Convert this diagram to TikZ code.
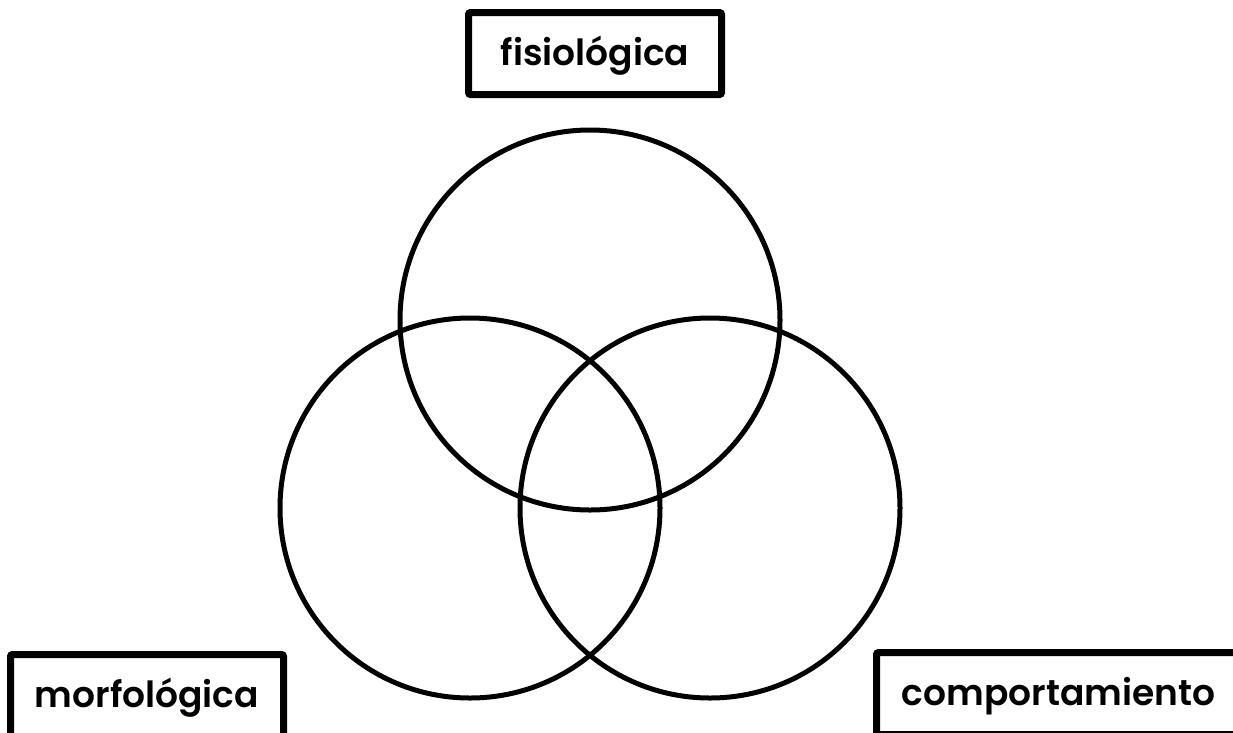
\documentclass[tikz,border=0pt]{standalone}
\usepackage{fontspec}
\setmainfont{Poppins}[BoldFont=* SemiBold]
\usetikzlibrary{positioning}

\begin{document}
\begin{tikzpicture}[
		x=1pt, y=-1pt,
		caja/.style={draw, rectangle, line width=7pt, rounded corners=2pt, minimum height=82pt,
			text height=30pt, text depth=7pt, font=\fontsize{36}{44}\selectfont\bfseries},
		circulo/.style={draw, circle, line width=5pt, minimum size=380pt}
		]
		\useasboundingbox (0,0) rectangle (1233,732);
		
		% Circulos del diagrama
		\node[circulo] (fis) at (590,320) {};
		\node[circulo] (mor) at (470,508) {};
		\node[circulo] (com) at (710,508) {};
		
		% Etiquetas
		\node[caja, minimum width=253pt] (tfis) at (595,53.5) {fisiológica};
		\node[caja, minimum width=273pt] (tmor) at (147,695.5) {morfológica};
		\node[caja, minimum width=364pt] (tcom) at (1058.5,693.5) {comportamiento};
		
	\end{tikzpicture}
\end{document}
